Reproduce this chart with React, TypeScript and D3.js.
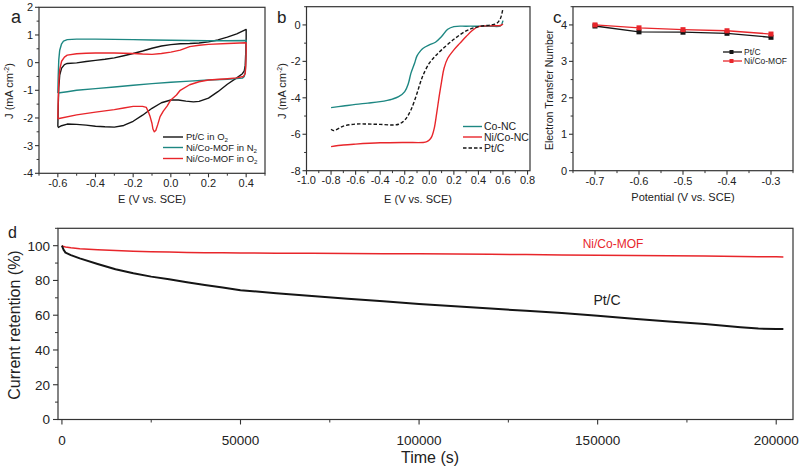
import React from "react";
import * as d3 from "d3";

const FONT = "'Liberation Sans', Arial, Helvetica, sans-serif";
const AXIS = "#333";
const BLACK = "#151515";
const RED = "#e8262b";
const TEAL = "#1d8782";

// (a) cyclic voltammograms: [E (V vs. SCE), J (mA cm-2)]
const cvPtC: [number, number][] = [
  [-0.6, -2.32], [-0.598, -1.6], [-0.595, -0.9], [-0.59, -0.45], [-0.58, -0.2], [-0.565, -0.07],
  [-0.55, -0.03], [-0.5, -0.01], [-0.45, 0.04], [-0.4, 0.08], [-0.35, 0.12], [-0.3, 0.17],
  [-0.25, 0.25], [-0.2, 0.33], [-0.15, 0.42], [-0.1, 0.52], [-0.05, 0.6], [0.0, 0.65],
  [0.05, 0.68], [0.1, 0.69], [0.15, 0.71], [0.2, 0.75], [0.25, 0.82], [0.3, 0.92], [0.35, 1.04],
  [0.4, 1.2], [0.4, 0.9], [0.398, 0.4], [0.395, -0.1], [0.39, -0.3], [0.38, -0.4], [0.35, -0.55],
  [0.3, -0.78], [0.25, -1.05], [0.2, -1.28], [0.15, -1.4], [0.12, -1.42], [0.08, -1.39],
  [0.04, -1.35], [0.0, -1.35], [-0.05, -1.45], [-0.1, -1.65], [-0.15, -1.9], [-0.2, -2.12],
  [-0.25, -2.27], [-0.3, -2.33], [-0.35, -2.32], [-0.4, -2.3], [-0.45, -2.26], [-0.5, -2.23],
  [-0.55, -2.22], [-0.58, -2.28], [-0.6, -2.35],
];
const cvNiCoN2: [number, number][] = [
  [-0.6, -1.1], [-0.598, -0.5], [-0.595, 0.1], [-0.59, 0.45], [-0.58, 0.68], [-0.57, 0.78],
  [-0.55, 0.83], [-0.5, 0.85], [-0.4, 0.85], [-0.3, 0.84], [-0.2, 0.83], [-0.1, 0.82],
  [0.0, 0.81], [0.1, 0.8], [0.2, 0.79], [0.3, 0.79], [0.4, 0.8], [0.4, 0.5], [0.398, 0.0],
  [0.395, -0.35], [0.39, -0.5], [0.38, -0.56], [0.3, -0.6], [0.2, -0.63], [0.1, -0.67],
  [0.0, -0.71], [-0.1, -0.76], [-0.2, -0.82], [-0.3, -0.88], [-0.4, -0.94], [-0.5, -1.0],
  [-0.55, -1.05], [-0.6, -1.1],
];
const cvNiCoO2: [number, number][] = [
  [-0.6, -2.03], [-0.598, -1.4], [-0.595, -0.7], [-0.59, -0.25], [-0.58, 0.05], [-0.565, 0.2],
  [-0.55, 0.27], [-0.5, 0.32], [-0.45, 0.34], [-0.4, 0.35], [-0.3, 0.35], [-0.2, 0.33],
  [-0.15, 0.31], [-0.1, 0.3], [-0.05, 0.33], [0.0, 0.38], [0.05, 0.45], [0.1, 0.58],
  [0.15, 0.63], [0.2, 0.66], [0.3, 0.69], [0.4, 0.72], [0.4, 0.4], [0.398, -0.1], [0.395, -0.4],
  [0.385, -0.5], [0.35, -0.55], [0.3, -0.58], [0.2, -0.63], [0.15, -0.69], [0.1, -0.8],
  [0.05, -1.0], [0.03, -1.17], [0.0, -1.35], [-0.02, -1.57], [-0.04, -1.75], [-0.057, -1.95],
  [-0.07, -2.25], [-0.08, -2.45], [-0.088, -2.5], [-0.095, -2.4], [-0.1, -2.2], [-0.11, -1.95],
  [-0.12, -1.77], [-0.13, -1.62], [-0.15, -1.58], [-0.2, -1.58], [-0.25, -1.64], [-0.3, -1.7],
  [-0.4, -1.79], [-0.5, -1.89], [-0.6, -2.03],
];
const cvNames = ["Pt/C in O", "Ni/Co-MOF in N", "Ni/Co-MOF in O"];

// (b) polarisation curves
const lsvCoNC: [number, number][] = [
  [-0.8, -4.54], [-0.7, -4.45], [-0.6, -4.36], [-0.5, -4.29], [-0.4, -4.21], [-0.3, -4.07],
  [-0.25, -3.94], [-0.2, -3.66], [-0.17, -3.2], [-0.15, -2.66], [-0.12, -2.1], [-0.1, -1.7],
  [-0.07, -1.41], [-0.05, -1.28], [0.0, -1.1], [0.05, -0.95], [0.1, -0.64], [0.15, -0.24],
  [0.2, -0.09], [0.3, -0.07], [0.4, -0.07], [0.5, -0.07], [0.58, -0.05], [0.6, 0.24],
];
const lsvNiCoNC: [number, number][] = [
  [-0.8, -6.68], [-0.7, -6.59], [-0.6, -6.54], [-0.4, -6.47], [-0.2, -6.45], [-0.05, -6.45],
  [-0.02, -6.41], [0.0, -6.32], [0.02, -6.13], [0.04, -5.68], [0.06, -4.85], [0.08, -3.94],
  [0.1, -3.11], [0.12, -2.38], [0.15, -1.83], [0.2, -1.37], [0.25, -1.0], [0.3, -0.64],
  [0.35, -0.31], [0.4, -0.09], [0.5, -0.05], [0.58, -0.03], [0.6, 0.05],
];
const lsvPtC: [number, number][] = [
  [-0.8, -5.73], [-0.78, -5.8], [-0.7, -5.55], [-0.6, -5.44], [-0.5, -5.44], [-0.4, -5.46],
  [-0.3, -5.49], [-0.25, -5.45], [-0.2, -5.22], [-0.15, -4.67], [-0.1, -3.75], [-0.07, -3.11],
  [-0.05, -2.75], [0.0, -2.1], [0.05, -1.7], [0.1, -1.37], [0.2, -0.79], [0.3, -0.33],
  [0.4, -0.09], [0.5, 0.0], [0.55, 0.09], [0.58, 0.37], [0.6, 0.92],
];
const lsvNames = ["Co-NC", "Ni/Co-NC", "Pt/C"];

// (c) electron transfer number
const potentials = [-0.7, -0.6, -0.5, -0.4, -0.3];
const etnPtC = [3.97, 3.81, 3.8, 3.77, 3.66];
const etnNiCo = [4.0, 3.92, 3.87, 3.84, 3.75];
const etnNames = ["Pt/C", "Ni/Co-MOF"];

// (d) chronoamperometric stability
const timeS = [
  0, 500, 1000, 2500, 5000, 10000, 15000, 20000, 25000, 30000, 35000, 40000, 45000, 50000,
  60000, 70000, 80000, 90000, 100000, 110000, 120000, 130000, 140000, 150000, 160000, 170000,
  180000, 190000, 195000, 200000, 202000,
];
const retPtC = [
  100, 97.5, 96, 94.6, 92.7, 89.5, 86.4, 84.1, 82.2, 80.7, 79.0, 77.4, 75.9, 74.4, 72.7, 71.1,
  69.5, 68.0, 66.4, 65.2, 63.8, 62.5, 61.2, 59.7, 58.0, 56.4, 54.9, 53.1, 52.3, 52.0, 52.0,
];
const retNiCo = [
  100, 99.5, 99.2, 98.8, 98.3, 97.7, 97.2, 96.8, 96.5, 96.3, 96.1, 96.0, 95.9, 95.8, 95.7, 95.6,
  95.5, 95.4, 95.3, 95.2, 95.0, 94.9, 94.7, 94.5, 94.3, 94.2, 94.0, 93.8, 93.7, 93.6, 93.5,
];

type Sc = d3.ScaleLinear<number, number>;

const clean = (v: number) => (Math.abs(v) < 1e-9 ? 0 : v);
const fmt1 = (v: number) => d3.format(".1f")(clean(v)).replace("\u2212", "-");
const fmt0 = (v: number) => d3.format("d")(Math.round(clean(v))).replace("\u2212", "-");

function ticksBetween(lo: number, hi: number, step: number, skip: number) {
  return d3
    .range(Math.ceil(lo / step - 1e-6), Math.floor(hi / step + 1e-6) + 1)
    .map((i) => i * step)
    .filter((v) => Math.abs(v / skip - Math.round(v / skip)) > 1e-6);
}

function Axes(p: {
  x: Sc; y: Sc; xMajor: number[]; xMinor: number[]; yMajor: number[]; yMinor: number[];
  xFmt: (v: number) => string; yFmt: (v: number) => string; fs: number; tick: number;
  xLabDy: number; yLabDx: number;
}) {
  const [x0, x1] = p.x.range();
  const [y0, y1] = p.y.range();
  return (
    <g fontFamily={FONT} fontSize={p.fs} fill="#222">
      <rect x={x0} y={y1} width={x1 - x0} height={y0 - y1} fill="none" stroke={AXIS} strokeWidth={1.2} />
      {p.xMinor.map((v, i) => (
        <line key={"xm" + i} x1={p.x(v)} x2={p.x(v)} y1={y0} y2={y0 + p.tick * 0.6} stroke={AXIS} />
      ))}
      {p.xMajor.map((v, i) => (
        <g key={"xM" + i}>
          <line x1={p.x(v)} x2={p.x(v)} y1={y0} y2={y0 + p.tick} stroke={AXIS} strokeWidth={1.1} />
          <text x={p.x(v)} y={y0 + p.xLabDy} textAnchor="middle">{p.xFmt(v)}</text>
        </g>
      ))}
      {p.yMinor.map((v, i) => (
        <line key={"ym" + i} x1={x0} x2={x0 - p.tick * 0.6} y1={p.y(v)} y2={p.y(v)} stroke={AXIS} />
      ))}
      {p.yMajor.map((v, i) => (
        <g key={"yM" + i}>
          <line x1={x0} x2={x0 - p.tick} y1={p.y(v)} y2={p.y(v)} stroke={AXIS} strokeWidth={1.1} />
          <text x={x0 - p.yLabDx} y={p.y(v)} dy="0.36em" textAnchor="end">{p.yFmt(v)}</text>
        </g>
      ))}
    </g>
  );
}

export default function App() {
  // panel a
  const ax = d3.scaleLinear().domain([-0.7, 0.5]).range([39, 265]);
  const ay = d3.scaleLinear().domain([-4, 2]).range([173.3, 7.3]);
  const aLine = d3.line<[number, number]>().x((d) => ax(d[0])).y((d) => ay(d[1]));
  // panel b
  const bx = d3.scaleLinear().domain([-1.0, 0.82]).range([306.5, 530]);
  const by = d3.scaleLinear().domain([-8, 1]).range([170.7, 6.7]);
  const bLine = d3.line<[number, number]>().x((d) => bx(d[0])).y((d) => by(d[1])).curve(d3.curveCatmullRom);
  // panel c
  const cx = d3.scaleLinear().domain([-0.75, -0.25]).range([573, 793]);
  const cy = d3.scaleLinear().domain([0, 4.5]).range([170.7, 6.7]);
  const cLine = d3.line<number>().x((_, i) => cx(potentials[i])).y((d) => cy(d));
  // panel d
  const dx = d3.scaleLinear().domain([-1100, 204700]).range([58, 793]);
  const dy = d3.scaleLinear().domain([0, 110]).range([419.5, 228.3]);
  const dLine = d3.line<number>().x((_, i) => dx(timeS[i])).y((d) => dy(d));

  const cvColors = [BLACK, TEAL, RED];
  const cvData = [cvPtC, cvNiCoN2, cvNiCoO2];
  const lsvColors = [TEAL, RED, BLACK];
  const lsvData = [lsvCoNC, lsvNiCoNC, lsvPtC];
  const etnColors = [BLACK, RED];
  const etnData = [etnPtC, etnNiCo];

  const sub = (fs: number) => (
    <tspan fontSize={fs * 0.65} dy={fs * 0.2}>2</tspan>
  );

  return (
    <svg width={800} height={470} style={{ position: "absolute", left: 0, top: 0, background: "#fff" }}
      fontFamily={FONT}>
      <defs>
        <clipPath id="clipB"><rect x={306.5} y={6.7} width={223.5} height={164} /></clipPath>
      </defs>

      {/* ---- a ---- */}
      <Axes x={ax} y={ay}
        xMajor={d3.range(-0.6, 0.41, 0.2)} xMinor={ticksBetween(-0.7, 0.5, 0.1, 0.2)}
        yMajor={d3.range(-4, 2.01, 1)} yMinor={ticksBetween(-4, 2, 0.5, 1)}
        xFmt={fmt1} yFmt={fmt0} fs={11} tick={4} xLabDy={14} yLabDx={6} />
      {cvData.map((d, i) => (
        <path key={i} d={aLine(d) || ""} fill="none" stroke={cvColors[i]} strokeWidth={1.4} strokeLinejoin="round" />
      ))}
      {cvNames.map((n, i) => {
        const yy = [137, 147.5, 158.5][i];
        return (
          <g key={n}>
            <line x1={163} x2={183} y1={yy} y2={yy} stroke={cvColors[i]} strokeWidth={1.4} />
            <text x={186} y={yy} dy="0.35em" fontSize={9.5} fill="#222">{n}{sub(9.5)}</text>
          </g>
        );
      })}
      <text x={11} y={23} fontSize={18} fill="#222">a</text>
      <text transform="translate(13,91) rotate(-90)" textAnchor="middle" fontSize={11} fill="#222">
        J (mA cm<tspan fontSize={7} dy={-4}>-2</tspan><tspan dy={4}>)</tspan>
      </text>
      <text x={152} y={203} textAnchor="middle" fontSize={11} fill="#222">E (V vs. SCE)</text>

      {/* ---- b ---- */}
      <Axes x={bx} y={by}
        xMajor={d3.range(-1.0, 0.81, 0.2)} xMinor={ticksBetween(-1.0, 0.82, 0.1, 0.2)}
        yMajor={d3.range(-8, 0.01, 2)} yMinor={ticksBetween(-8, 1, 1, 2)}
        xFmt={fmt1} yFmt={fmt0} fs={11} tick={4} xLabDy={13} yLabDx={6} />
      <g clipPath="url(#clipB)">
        {lsvData.map((d, i) => (
          <path key={i} d={bLine(d) || ""} fill="none" stroke={lsvColors[i]} strokeWidth={1.4}
            strokeDasharray={i === 2 ? "3.5,2" : undefined} />
        ))}
      </g>
      {lsvNames.map((n, i) => {
        const yy = [126.5, 137, 148][i];
        return (
          <g key={n}>
            <line x1={463} x2={482} y1={yy} y2={yy} stroke={lsvColors[i]} strokeWidth={1.4}
              strokeDasharray={i === 2 ? "3.5,2" : undefined} />
            <text x={484} y={yy} dy="0.35em" fontSize={10.5} fill="#222">{n}</text>
          </g>
        );
      })}
      <text x={277} y={23} fontSize={17} fill="#222">b</text>
      <text transform="translate(286,91) rotate(-90)" textAnchor="middle" fontSize={11} fill="#222">
        J (mA cm<tspan fontSize={7} dy={-4}>-2</tspan><tspan dy={4}>)</tspan>
      </text>
      <text x={418} y={203} textAnchor="middle" fontSize={11} fill="#222">E (V vs. SCE)</text>

      {/* ---- c ---- */}
      <Axes x={cx} y={cy}
        xMajor={d3.range(-0.7, -0.29, 0.1)} xMinor={ticksBetween(-0.75, -0.25, 0.05, 0.1)}
        yMajor={d3.range(0, 4.01, 1)} yMinor={ticksBetween(0, 4.5, 0.5, 1)}
        xFmt={fmt1} yFmt={fmt0} fs={11} tick={4} xLabDy={14} yLabDx={6} />
      {etnData.map((d, i) => (
        <g key={i}>
          <path d={cLine(d) || ""} fill="none" stroke={etnColors[i]} strokeWidth={1.3} />
          {d.map((v, j) => (
            <rect key={j} x={cx(potentials[j]) - 2.5} y={cy(v) - 2.5} width={5} height={5} fill={etnColors[i]} />
          ))}
        </g>
      ))}
      {etnNames.map((n, i) => {
        const yy = [52, 61][i];
        return (
          <g key={n}>
            <line x1={723} x2={742} y1={yy} y2={yy} stroke={etnColors[i]} strokeWidth={1.3} />
            <rect x={729.5} y={yy - 2} width={4} height={4} fill={etnColors[i]} />
            <text x={744} y={yy} dy="0.35em" fontSize={8.5} fill="#222">{n}</text>
          </g>
        );
      })}
      <text x={553} y={23} fontSize={17} fill="#222">c</text>
      <text transform="translate(553,90) rotate(-90)" textAnchor="middle" fontSize={10.5} fill="#222">
        Electron Transfer Number
      </text>
      <text x={683} y={201} textAnchor="middle" fontSize={11} fill="#222">Potential (V vs. SCE)</text>

      {/* ---- d ---- */}
      <Axes x={dx} y={dy}
        xMajor={d3.range(0, 200001, 50000)} xMinor={ticksBetween(0, 204700, 25000, 50000)}
        yMajor={d3.range(0, 101, 20)} yMinor={ticksBetween(0, 110, 10, 20)}
        xFmt={fmt0} yFmt={fmt0} fs={13.5} tick={5} xLabDy={25} yLabDx={8} />
      <path d={dLine(retNiCo) || ""} fill="none" stroke={RED} strokeWidth={1.5} strokeLinejoin="round" />
      <path d={dLine(retPtC) || ""} fill="none" stroke={BLACK} strokeWidth={2} strokeLinejoin="round" />
      <text x={613} y={248} textAnchor="middle" fontSize={12} fill={RED}>Ni/Co-MOF</text>
      <text x={607} y={305} textAnchor="middle" fontSize={14} fill="#222">Pt/C</text>
      <text x={8} y={238} fontSize={16} fill="#222">d</text>
      <text transform="translate(20,325) rotate(-90)" textAnchor="middle" fontSize={16} fill="#222">
        Current retention (%)
      </text>
      <text x={430} y={463} textAnchor="middle" fontSize={16} fill="#222">Time (s)</text>
    </svg>
  );
}
